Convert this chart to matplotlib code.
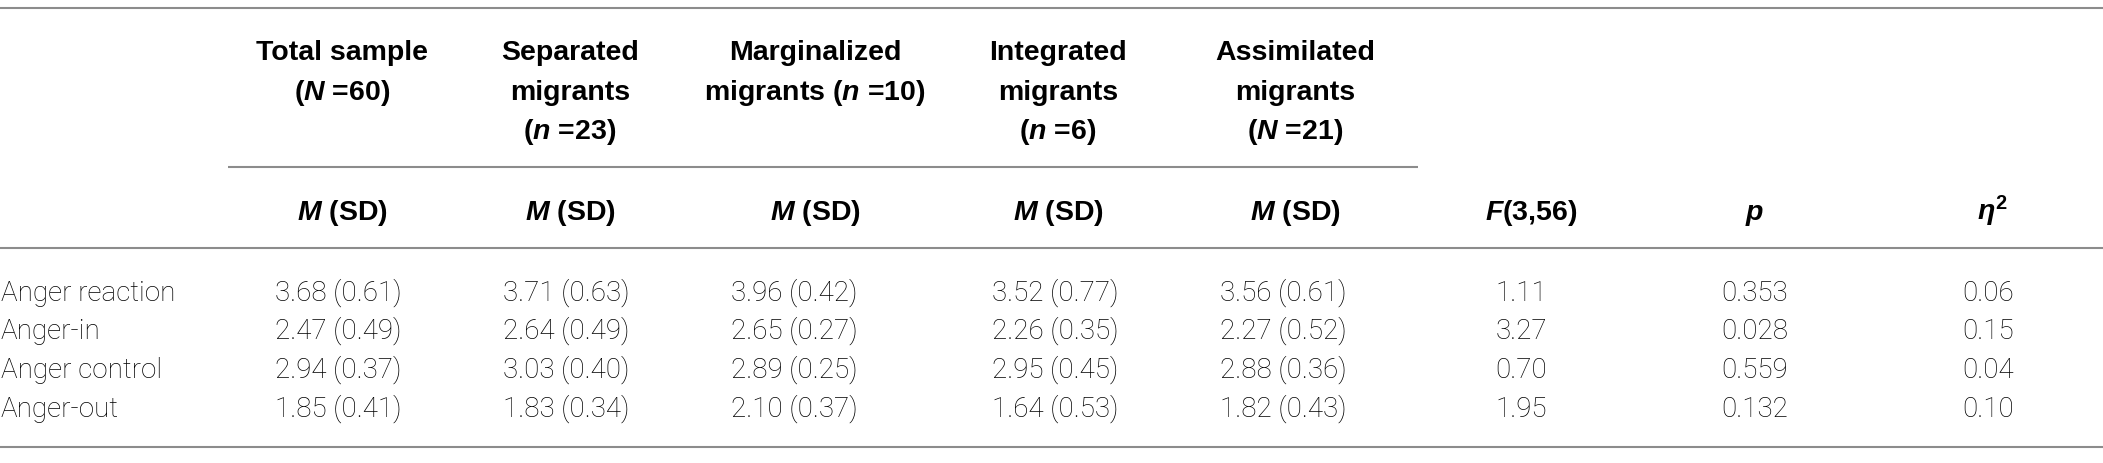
import matplotlib
matplotlib.use("Agg")
import matplotlib.pyplot as plt

# ---------- DATA ----------
scales = ["Anger reaction", "Anger-in", "Anger control", "Anger-out"]

group_titles = [
    ["Total sample", "($N$ =60)"],
    ["Separated", "migrants", "($n$ =23)"],
    ["Marginalized", "migrants ($n$ =10)"],
    ["Integrated", "migrants", "($n$ =6)"],
    ["Assimilated", "migrants", "($N$ =21)"],
]

total_m = [3.68, 2.47, 2.94, 1.85]
total_sd = [0.61, 0.49, 0.37, 0.41]
separated_m = [3.71, 2.64, 3.03, 1.83]
separated_sd = [0.63, 0.49, 0.40, 0.34]
marginalized_m = [3.96, 2.65, 2.89, 2.10]
marginalized_sd = [0.42, 0.27, 0.25, 0.37]
integrated_m = [3.52, 2.26, 2.95, 1.64]
integrated_sd = [0.77, 0.35, 0.45, 0.53]
assimilated_m = [3.56, 2.27, 2.88, 1.82]
assimilated_sd = [0.61, 0.52, 0.36, 0.43]

f_values = [1.11, 3.27, 0.70, 1.95]
p_values = [0.353, 0.028, 0.559, 0.132]
eta_sq = [0.06, 0.15, 0.04, 0.10]

stat_titles = ["$F$(3,56)", "$p$", r"$\eta^2$"]

# ---------- STYLE ----------
plt.rcParams["mathtext.fontset"] = "custom"
plt.rcParams["mathtext.it"] = "Liberation Sans:bold:italic"
plt.rcParams["mathtext.rm"] = "Liberation Sans:bold"
plt.rcParams["mathtext.bf"] = "Liberation Sans:bold"

W, H, DPI = 2103, 464, 100
head_font = dict(family="Liberation Sans", fontweight="bold", fontsize=20.5, color="#000000")
body_font = dict(family="Roboto", fontweight="light", fontsize=20, color="#000000")
rule = dict(color="#8c8c8c", lw=1.5, solid_capstyle="butt")

fig = plt.figure(figsize=(W / DPI, H / DPI), dpi=DPI)
ax = fig.add_axes([0, 0, 1, 1])
ax.set_xlim(0, W)
ax.set_ylim(H, 0)
ax.axis("off")

# column centres (pixels)
head_x = [342, 570, 815, 1058, 1295]
value_x = [338, 566, 794, 1055, 1283]
stat_head_x = [1531, 1755, 1993]
stat_val_x = [1521, 1755, 1988]

head_base = [60, 100, 139]
msd_base = 220
row_base = [301, 339, 378, 417]

# ---------- RULES ----------
ax.plot([0, W], [9, 9], **rule)
ax.plot([228, 1418], [168, 168], **rule)
ax.plot([0, W], [249, 249], **rule)
ax.plot([0, W], [448, 448], **rule)

# ---------- HEADER ----------
for x, lines in zip(head_x, group_titles):
    for yb, txt in zip(head_base, lines):
        ax.text(x, yb, txt, ha="center", va="baseline", **head_font)
    ax.text(x, msd_base, "$M$ (SD)", ha="center", va="baseline", **head_font)

for x, txt in zip(stat_head_x, stat_titles):
    ax.text(x, msd_base, txt, ha="center", va="baseline", **head_font)

# ---------- BODY ----------
groups = [
    (total_m, total_sd),
    (separated_m, separated_sd),
    (marginalized_m, marginalized_sd),
    (integrated_m, integrated_sd),
    (assimilated_m, assimilated_sd),
]

for i, name in enumerate(scales):
    yb = row_base[i]
    ax.text(1, yb, name, ha="left", va="baseline", **body_font)
    for x, (ms, sds) in zip(value_x, groups):
        ax.text(x, yb, f"{ms[i]:.2f} ({sds[i]:.2f})", ha="center", va="baseline", **body_font)
    stats = [f"{f_values[i]:.2f}", f"{p_values[i]:.3f}", f"{eta_sq[i]:.2f}"]
    for x, s in zip(stat_val_x, stats):
        ax.text(x, yb, s, ha="center", va="baseline", **body_font)

fig.savefig("out.png", dpi=DPI, facecolor="white")
plt.close(fig)
